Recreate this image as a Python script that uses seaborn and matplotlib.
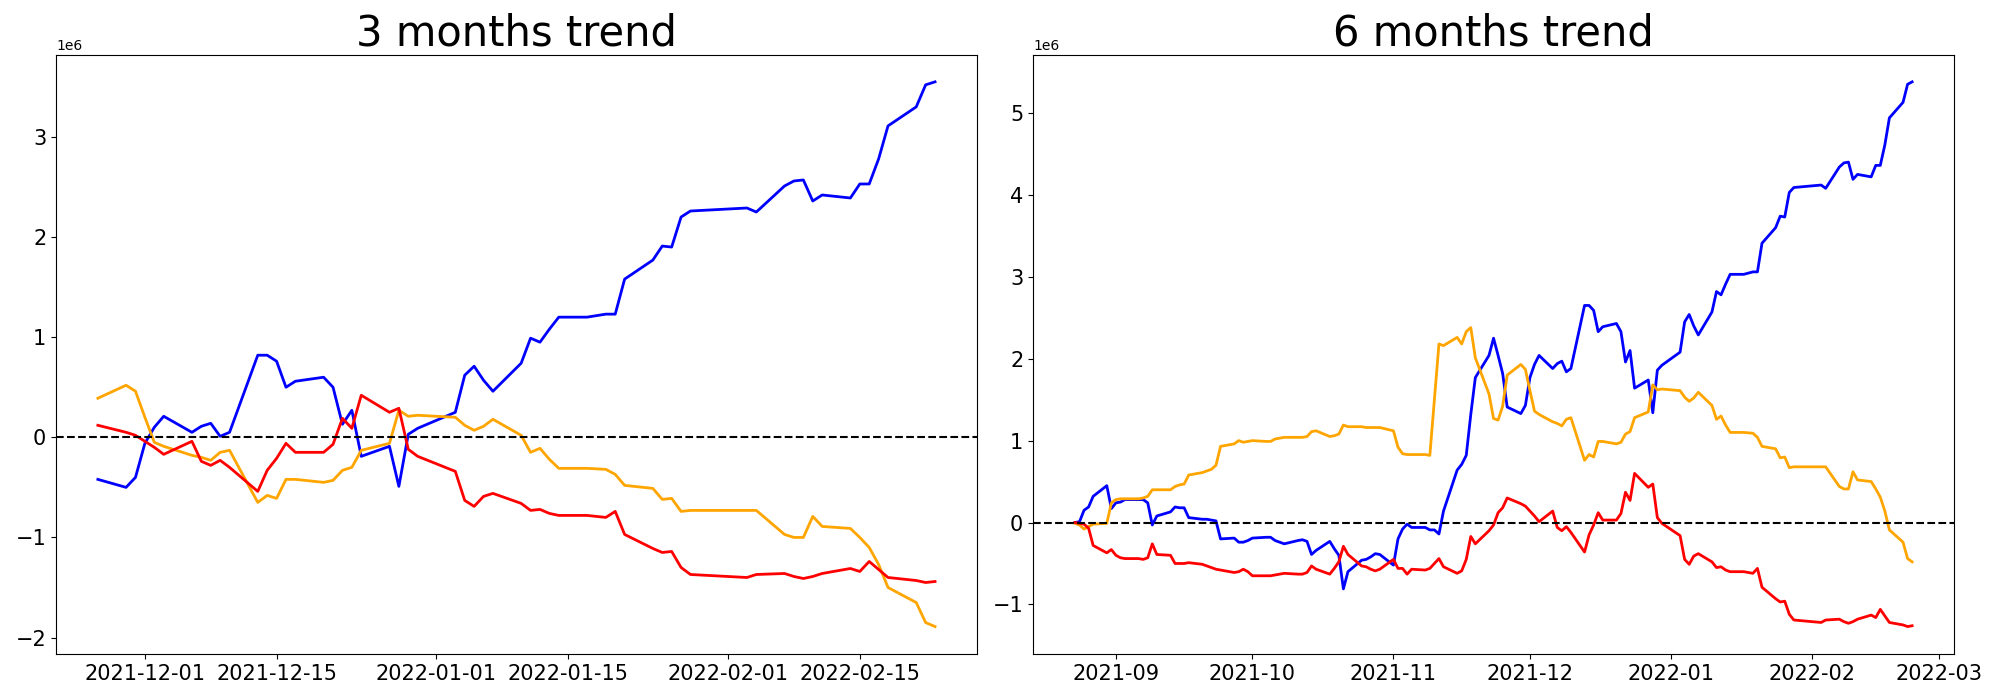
import matplotlib
matplotlib.use("Agg")
import matplotlib.pyplot as plt
import pandas as pd
import seaborn as sns

# values are in millions (plotted x 1e6)
dates_3m = [
    "2021-11-26", "2021-11-29", "2021-11-30", "2021-12-01", "2021-12-02", "2021-12-03",
    "2021-12-06", "2021-12-07", "2021-12-08", "2021-12-09", "2021-12-10", "2021-12-13",
    "2021-12-14", "2021-12-15", "2021-12-16", "2021-12-17", "2021-12-20", "2021-12-21",
    "2021-12-22", "2021-12-23", "2021-12-24", "2021-12-27", "2021-12-28", "2021-12-29",
    "2021-12-30", "2022-01-03", "2022-01-04", "2022-01-05", "2022-01-06", "2022-01-07",
    "2022-01-10", "2022-01-11", "2022-01-12", "2022-01-13", "2022-01-14", "2022-01-17",
    "2022-01-19", "2022-01-20", "2022-01-21", "2022-01-24", "2022-01-25", "2022-01-26",
    "2022-01-27", "2022-01-28", "2022-02-03", "2022-02-04", "2022-02-07", "2022-02-08",
    "2022-02-09", "2022-02-10", "2022-02-11", "2022-02-14", "2022-02-15", "2022-02-16",
    "2022-02-17", "2022-02-18", "2022-02-21", "2022-02-22", "2022-02-23",
]
blue_3m = [
    -0.42, -0.50, -0.40, -0.06, 0.10, 0.21, 0.05, 0.11, 0.14, 0.01,
    0.05, 0.82, 0.82, 0.76, 0.50, 0.56, 0.60, 0.50, 0.13, 0.27,
    -0.19, -0.09, -0.49, 0.03, 0.09, 0.25, 0.62, 0.71, 0.57, 0.46,
    0.74, 0.99, 0.95, 1.08, 1.20, 1.20, 1.23, 1.23, 1.58, 1.77,
    1.91, 1.90, 2.20, 2.26, 2.29, 2.25, 2.51, 2.56, 2.57, 2.36,
    2.42, 2.39, 2.53, 2.53, 2.78, 3.11, 3.30, 3.52, 3.55,
]
orange_3m = [
    0.39, 0.52, 0.46, 0.20, -0.05, -0.09, -0.18, -0.20, -0.23, -0.15,
    -0.13, -0.65, -0.58, -0.61, -0.42, -0.42, -0.45, -0.43, -0.33, -0.30,
    -0.13, -0.06, 0.27, 0.21, 0.22, 0.20, 0.12, 0.07, 0.11, 0.18,
    0.02, -0.15, -0.11, -0.22, -0.31, -0.31, -0.32, -0.37, -0.48, -0.51,
    -0.62, -0.61, -0.74, -0.73, -0.73, -0.73, -0.97, -1.00, -1.00, -0.79,
    -0.89, -0.91, -1.00, -1.10, -1.27, -1.50, -1.65, -1.85, -1.89,
]
red_3m = [
    0.12, 0.05, 0.02, -0.04, -0.10, -0.17, -0.04, -0.24, -0.28, -0.23,
    -0.30, -0.54, -0.33, -0.21, -0.06, -0.15, -0.15, -0.07, 0.19, 0.09,
    0.42, 0.25, 0.29, -0.12, -0.19, -0.34, -0.63, -0.69, -0.59, -0.56,
    -0.66, -0.73, -0.72, -0.76, -0.78, -0.78, -0.80, -0.74, -0.97, -1.11,
    -1.15, -1.14, -1.30, -1.37, -1.40, -1.37, -1.36, -1.39, -1.41, -1.39,
    -1.36, -1.31, -1.34, -1.24, -1.32, -1.40, -1.43, -1.45, -1.44,
]

dates_6m_start = [
    "2021-08-23", "2021-08-24", "2021-08-25", "2021-08-26", "2021-08-27", "2021-08-30",
    "2021-08-31", "2021-09-01", "2021-09-02", "2021-09-03", "2021-09-06", "2021-09-07",
    "2021-09-08", "2021-09-09", "2021-09-10", "2021-09-13", "2021-09-14", "2021-09-15",
    "2021-09-16", "2021-09-17", "2021-09-20", "2021-09-21", "2021-09-22", "2021-09-23",
    "2021-09-24", "2021-09-27", "2021-09-28", "2021-09-29", "2021-09-30", "2021-10-01",
    "2021-10-04", "2021-10-05", "2021-10-06", "2021-10-07", "2021-10-08", "2021-10-11",
    "2021-10-12", "2021-10-13", "2021-10-14", "2021-10-15", "2021-10-18", "2021-10-19",
    "2021-10-20", "2021-10-21", "2021-10-22", "2021-10-25", "2021-10-26", "2021-10-27",
    "2021-10-28", "2021-10-29", "2021-11-01", "2021-11-02", "2021-11-03", "2021-11-04",
    "2021-11-05", "2021-11-08", "2021-11-09", "2021-11-10", "2021-11-11", "2021-11-12",
    "2021-11-15", "2021-11-16", "2021-11-17", "2021-11-18", "2021-11-19", "2021-11-22",
    "2021-11-23", "2021-11-24", "2021-11-25",
]
dates_6m = dates_6m_start + dates_3m

blue_6m = [
    0.00, 0.01, 0.15, 0.19, 0.32, 0.45, 0.17,
    0.24, 0.25, 0.28, 0.28, 0.28, 0.24, -0.03, 0.08, 0.13, 0.19,
    0.18, 0.18, 0.06, 0.04, 0.04, 0.03, 0.02, -0.20, -0.19, -0.24,
    -0.24, -0.22,
    -0.19, -0.18, -0.18, -0.22, -0.24, -0.26, -0.22, -0.21, -0.23, -0.39,
    -0.34, -0.23, -0.32, -0.40, -0.81, -0.60, -0.46, -0.45, -0.42, -0.38,
    -0.39,
    -0.52, -0.20, -0.08, -0.02, -0.06, -0.06, -0.09, -0.09, -0.14, 0.14,
    0.64, 0.71, 0.82, 1.32, 1.77, 2.04, 2.25, 2.04, 1.82,
    1.41, 1.33, 1.43, 1.77, 1.93, 2.04, 1.88, 1.94, 1.97, 1.84,
    1.88, 2.65, 2.65, 2.59, 2.33, 2.39, 2.43, 2.33, 1.96, 2.10,
    1.64, 1.74, 1.34, 1.86, 1.92, 2.08, 2.45, 2.54, 2.40, 2.29,
    2.57, 2.82, 2.78, 2.91, 3.03, 3.03, 3.06, 3.06, 3.41, 3.60,
    3.74, 3.73, 4.03, 4.09, 4.12, 4.08, 4.34, 4.39, 4.40, 4.19,
    4.25, 4.22, 4.36, 4.36, 4.61, 4.94, 5.13, 5.35, 5.38,
]
orange_6m = [
    -0.01, -0.03, -0.08, -0.05, -0.02, -0.01, 0.24,
    0.28, 0.29, 0.29, 0.29, 0.30, 0.32, 0.40, 0.40, 0.40, 0.44,
    0.46, 0.47, 0.58, 0.61, 0.63, 0.65, 0.70, 0.93, 0.96, 1.00,
    0.98, 0.99,
    1.00, 0.99, 0.99, 1.02, 1.03, 1.04, 1.04, 1.04, 1.05, 1.11,
    1.12, 1.05, 1.06, 1.08, 1.19, 1.17, 1.17, 1.16, 1.16, 1.16,
    1.16,
    1.12, 0.92, 0.84, 0.83, 0.83, 0.83, 0.82, 1.50, 2.18, 2.16,
    2.26, 2.18, 2.33, 2.38, 2.01, 1.57, 1.27, 1.25, 1.42,
    1.80, 1.93, 1.87, 1.61, 1.36, 1.32, 1.23, 1.21, 1.18, 1.26,
    1.28, 0.76, 0.83, 0.80, 0.99, 0.99, 0.96, 0.98, 1.08, 1.11,
    1.28, 1.35, 1.68, 1.62, 1.63, 1.61, 1.53, 1.48, 1.52, 1.59,
    1.43, 1.26, 1.30, 1.19, 1.10, 1.10, 1.09, 1.04, 0.93, 0.90,
    0.79, 0.80, 0.67, 0.68, 0.68, 0.68, 0.44, 0.41, 0.41, 0.62,
    0.52, 0.50, 0.41, 0.31, 0.14, -0.09, -0.24, -0.44, -0.48,
]
red_6m = [
    0.00, -0.01, -0.02, -0.07, -0.28, -0.37, -0.33,
    -0.40, -0.43, -0.44, -0.44, -0.45, -0.43, -0.26, -0.39, -0.40, -0.50,
    -0.50, -0.50, -0.49, -0.51, -0.53, -0.55, -0.57, -0.58, -0.61, -0.60,
    -0.57, -0.60,
    -0.65, -0.65, -0.65, -0.64, -0.63, -0.62, -0.63, -0.63, -0.61, -0.53,
    -0.57, -0.63, -0.56, -0.48, -0.29, -0.39, -0.53, -0.54, -0.57, -0.59,
    -0.57,
    -0.45, -0.56, -0.56, -0.63, -0.57, -0.58, -0.56, -0.50, -0.44, -0.54,
    -0.62, -0.59, -0.45, -0.17, -0.26, -0.10, -0.03, 0.12, 0.18,
    0.30, 0.23, 0.20, 0.14, 0.08, 0.01, 0.14, -0.06, -0.10, -0.05,
    -0.12, -0.36, -0.15, -0.03, 0.12, 0.03, 0.03, 0.11, 0.37, 0.27,
    0.60, 0.43, 0.47, 0.06, -0.01, -0.16, -0.45, -0.51, -0.41, -0.38,
    -0.48, -0.55, -0.54, -0.58, -0.60, -0.60, -0.62, -0.56, -0.79, -0.93,
    -0.97, -0.96, -1.12, -1.19, -1.22, -1.19, -1.18, -1.21, -1.23, -1.21,
    -1.18, -1.13, -1.16, -1.06, -1.14, -1.22, -1.25, -1.27, -1.26,
]


def _draw(ax, dates, blue, orange, red, title):
    df = pd.DataFrame({
        "date": pd.to_datetime(dates),
        "blue": [v * 1e6 for v in blue],
        "orange": [v * 1e6 for v in orange],
        "red": [v * 1e6 for v in red],
    })
    for col in ["blue", "orange", "red"]:
        sns.lineplot(data=df, x="date", y=col, color=col, linewidth=2,
                     estimator=None, ax=ax)
    ax.axhline(0, color="black", linestyle="--", linewidth=1.5)
    ax.set_title(title, fontsize=30)
    ax.set_xlabel("")
    ax.set_ylabel("")
    ax.tick_params(labelsize=15)


fig, axes = plt.subplots(1, 2, figsize=(20, 7))
_draw(axes[0], dates_3m, blue_3m, orange_3m, red_3m, "3 months trend")
_draw(axes[1], dates_6m, blue_6m, orange_6m, red_6m, "6 months trend")
fig.subplots_adjust(left=0.028, right=0.977, top=0.922, bottom=0.066, wspace=0.061)
fig.savefig("out.png", dpi=100)
